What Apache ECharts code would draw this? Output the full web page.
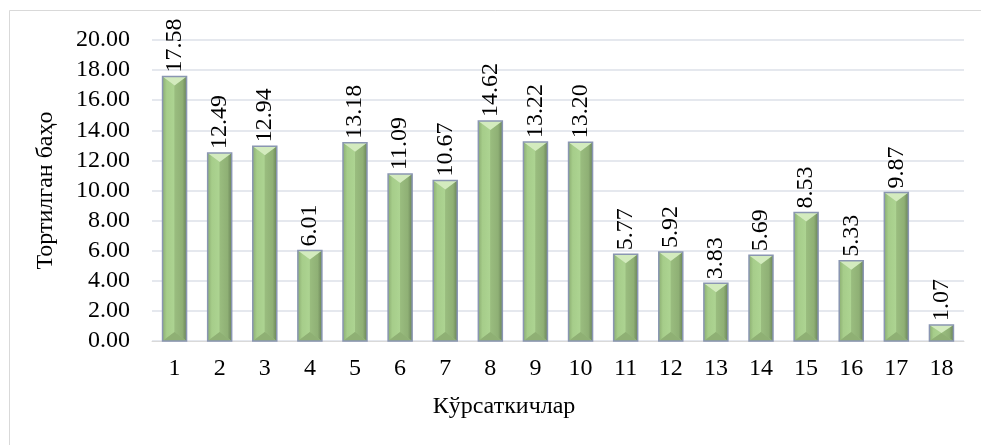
<!DOCTYPE html>
<html>
<head>
<meta charset="utf-8">
<script src="https://cdn.jsdelivr.net/npm/echarts@6/dist/echarts.min.js"></script>
<style>
html,body{margin:0;padding:0;background:#fff;}
#chart{width:981px;height:445px;}
</style>
</head>
<body>
<div id="chart"></div>
<script>
const categories = ['1','2','3','4','5','6','7','8','9','10','11','12','13','14','15','16','17','18'];
const values = [17.58, 12.49, 12.94, 6.01, 13.18, 11.09, 10.67, 14.62, 13.22, 13.20, 5.77, 5.92, 3.83, 5.69, 8.53, 5.33, 9.87, 1.07];
const yTicks = { min: 0, max: 20, interval: 2 };
const xTitle = 'Кўрсаткичлар';
const yTitle = 'Тортилган баҳо';

const chart = echarts.init(document.getElementById('chart'), null, {renderer: 'canvas'});
const font = 'Liberation Serif';
const FS = 24;
const BAR_W = 24;

function bevel(params, api) {
  const idx = api.value(0);
  const top = api.coord([idx, api.value(1)]);
  const base = api.coord([idx, 0]);
  const cx = top[0];
  const L = cx - BAR_W / 2, R = cx + BAR_W / 2;
  const T = top[1], B = base[1];
  const h = B - T;
  const d = Math.min(9, h / 2);
  const LG = echarts.graphic.LinearGradient;
  return {
    type: 'group',
    children: [
      {type: 'polygon', shape: {points: [[L, T], [cx, T + d], [cx, B - d], [L, B]]},
        style: {fill: new LG(0, 0, 1, 0, [{offset: 0, color: '#8cae72'}, {offset: 0.35, color: '#a6cd8a'}, {offset: 1, color: '#add492'}])}},
      {type: 'polygon', shape: {points: [[R, T], [cx, T + d], [cx, B - d], [R, B]]},
        style: {fill: new LG(1, 0, 0, 0, [{offset: 0, color: '#6a8458'}, {offset: 0.35, color: '#8fb075'}, {offset: 1, color: '#9abd7f'}])}},
      {type: 'polygon', shape: {points: [[L, T], [R, T], [cx, T + d]]},
        style: {fill: '#d3ebbe'}},
      {type: 'polygon', shape: {points: [[L, B], [R, B], [cx, B - d]]},
        style: {fill: '#8fb074'}},
      {type: 'rect', shape: {x: L, y: T, width: BAR_W, height: h},
        style: {fill: 'none', stroke: '#8a96b2', lineWidth: 1.5}}
    ]
  };
}

chart.setOption({
  animation: false,
  backgroundColor: '#fff',
  graphic: [{
    type: 'rect', silent: true, z: -1,
    shape: {x: 9.5, y: 10.5, width: 990, height: 460},
    style: {fill: 'none', stroke: '#d9d9d9', lineWidth: 1}
  }],
  grid: {left: 152, right: 17, top: 40, bottom: 104, containLabel: false},
  xAxis: {
    type: 'category',
    data: categories,
    name: xTitle,
    nameLocation: 'middle',
    nameGap: 54,
    nameTextStyle: {fontFamily: font, fontSize: FS, color: '#000', padding: [0, 108, 0, 0]},
    axisLine: {show: true, lineStyle: {color: '#d9d9d9', width: 1}},
    axisTick: {show: false},
    axisLabel: {fontFamily: font, fontSize: FS, color: '#000', margin: 16}
  },
  yAxis: {
    type: 'value',
    min: yTicks.min, max: yTicks.max, interval: yTicks.interval,
    name: yTitle,
    nameLocation: 'middle',
    nameGap: 94,
    nameRotate: 90,
    nameTextStyle: {fontFamily: font, fontSize: FS, color: '#000'},
    axisLine: {show: false},
    axisTick: {show: false},
    axisLabel: {fontFamily: font, fontSize: FS, color: '#000', margin: 22,
      formatter: v => v.toFixed(2)},
    splitLine: {lineStyle: {color: '#dde0e8', width: 1.5}}
  },
  series: [{
    type: 'bar',
    data: values,
    barWidth: BAR_W,
    itemStyle: {color: '#9cc182'},
    label: {
      show: true,
      position: 'top',
      rotate: 90,
      align: 'left',
      verticalAlign: 'middle',
      distance: 4,
      fontFamily: font,
      fontSize: FS,
      color: '#000',
      formatter: p => p.value.toFixed(2)
    }
  }, {
    type: 'custom',
    data: values.map((v, i) => [i, v]),
    encode: {x: 0, y: 1},
    renderItem: bevel,
    z: 3
  }]
});
</script>
</body>
</html>
